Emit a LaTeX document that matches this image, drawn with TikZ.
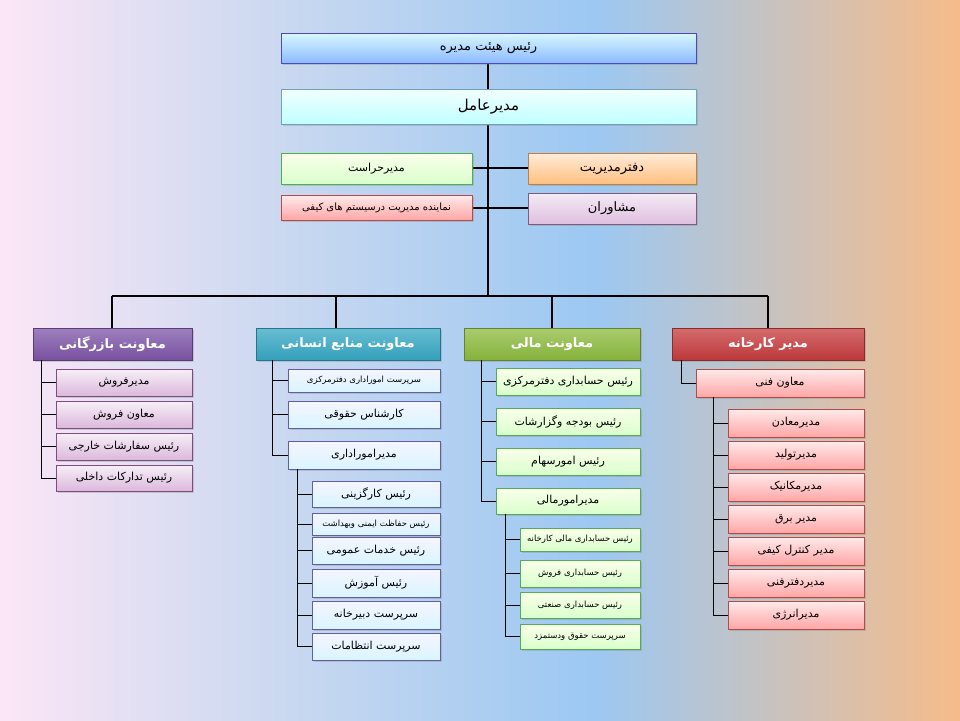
\documentclass[tikz,border=0pt]{standalone}
\usepackage{fontspec}
\newfontfamily\arabicfont[Script=Arabic]{DejaVu Sans}
\TeXXeTstate=1
\usetikzlibrary{shadows}
\newcommand\fa[1]{{\arabicfont\beginR #1\endR}}
\definecolor{bgL}{HTML}{FBE6F6}
\definecolor{bgM1}{HTML}{C9D8F0}
\definecolor{bgM}{HTML}{9CC8F2}
\definecolor{bgR}{HTML}{F6BC8A}
\pgfdeclarehorizontalshading{bgshade}{100bp}{
  color(0bp)=(bgL); color(25bp)=(bgL); color(40bp)=(bgM1); color(56bp)=(bgM); color(75bp)=(bgR); color(100bp)=(bgR)}
\tikzset{
  bxbase/.style={draw=#1, line width=0.6pt, inner sep=0pt, outer sep=0pt,
    drop shadow={shadow xshift=1.5pt, shadow yshift=-1.5pt, opacity=0.3}},
  board/.style={bxbase=blue!40!gray, top color=blue!20!cyan!15, bottom color=blue!60!cyan!45, font=\fontsize{13}{15}\selectfont},
  ceo/.style={bxbase=cyan!40!gray, top color=cyan!5, bottom color=cyan!25, font=\fontsize{15}{17}\selectfont},
  grn/.style={bxbase=green!40!gray, top color=lime!8, bottom color=lime!35!green!20, font=\fontsize{11}{13}\selectfont},
  org/.style={bxbase=orange!50!gray, top color=orange!15, bottom color=orange!50, font=\fontsize{13}{15}\selectfont},
  pnk/.style={bxbase=red!40!gray, top color=red!8, bottom color=red!35, font=\fontsize{10}{12}\selectfont},
  lav/.style={bxbase=violet!30!gray, top color=violet!8, bottom color=violet!25, font=\fontsize{13}{15}\selectfont},
  head/.style={bxbase=#1!70!black, top color=#1!75, bottom color=#1!95!black, text=white, font=\bfseries\fontsize{13}{15}\selectfont},
  cchild/.style={bxbase=violet!40!gray, top color=violet!6, bottom color=violet!28, font=\fontsize{11}{13}\selectfont},
  hchild/.style={bxbase=blue!25!gray, top color=blue!4, bottom color=blue!25!cyan!15, font=\fontsize{11}{13}\selectfont},
  fchild/.style={bxbase=green!35!gray, top color=lime!8, bottom color=lime!35!green!20, font=\fontsize{11}{13}\selectfont},
  rchild/.style={bxbase=red!40!gray, top color=red!8, bottom color=red!35, font=\fontsize{11}{13}\selectfont},
  small/.style={font=\fontsize{8.5}{10}\selectfont},
  trunk/.style={line width=2.6pt, black},
  thin/.style={line width=1pt, black}
}
\definecolor{purp}{HTML}{7E55A8}
\definecolor{teal2}{HTML}{36A8C4}
\definecolor{grn2}{HTML}{8DBB3F}
\definecolor{red2}{HTML}{C63B3D}
\newcommand\bx[7]{\node[#2, minimum width={#5-#3}, minimum height={#6-#4}] (#1) at ({(#3+#5)/2},{(#4+#6)/2}) {\fa{#7}};}
\begin{document}
\begin{tikzpicture}[x=1pt,y=-1pt]
\shade[shading=bgshade] (0,0) rectangle (960,720);
\useasboundingbox (0,0) rectangle (960,720);
% trunk and bus
\coordinate (bus) at (488,296);
\coordinate (busL) at (112,296);
\coordinate (busR) at (768,296);
\draw[trunk] (488,63) -- (bus);
\draw[trunk] (busL) -- (busR);
\foreach \x in {112,336,552,768} \draw[trunk] (\x,296) -- (\x,328);
\draw[trunk] (472,168) -- (528,168);
\draw[trunk] (472,208) -- (528,208);
% top
\bx{board}{board}{281}{33}{696}{63}{رئیس هیئت مدیره}
\bx{ceo}{ceo}{281}{89}{696}{124}{مدیرعامل}
\bx{harast}{grn}{281}{153}{472}{184}{مدیرحراست}
\bx{daftar}{org}{528}{153}{696}{184}{دفترمدیریت}
\bx{nam}{pnk}{281}{195}{472}{220}{نماینده مدیریت درسیستم های کیفی}
\bx{mosh}{lav}{528}{193}{696}{224}{مشاوران}
% heads
\bx{comm}{head=purp}{33}{328}{192}{360}{معاونت بازرگانی}
\bx{hr}{head=teal2}{256}{328}{440}{360}{معاونت منابع انسانی}
\bx{fin}{head=grn2}{464}{328}{640}{360}{معاونت مالی}
\bx{fac}{head=red2}{672}{328}{864}{360}{مدیر کارخانه}
% commerce
\bx{c1}{cchild}{56}{369}{192}{396}{مدیرفروش}
\bx{c2}{cchild}{56}{401}{192}{428}{معاون فروش}
\bx{c3}{cchild}{56}{433}{192}{460}{رئیس سفارشات خارجی}
\bx{c4}{cchild}{56}{465}{192}{491}{رئیس تدارکات داخلی}
\foreach \n in {c1,c2,c3,c4} \draw[thin] ([xshift=8pt]comm.south west) |- (\n.west);
% HR
\bx{h1}{hchild,small}{288}{369}{440}{392}{سرپرست اموراداری دفترمرکزی}
\bx{h2}{hchild}{288}{401}{440}{428}{کارشناس حقوقی}
\bx{h3}{hchild}{288}{441}{440}{469}{مدیراموراداری}
\foreach \n in {h1,h2,h3} \draw[thin] ([xshift=16pt]hr.south west) |- (\n.west);
\bx{hs1}{hchild}{312}{481}{440}{507}{رئیس کارگزینی}
\bx{hs2}{hchild,small}{312}{513}{440}{535}{رئیس حفاظت ایمنی وبهداشت}
\bx{hs3}{hchild}{312}{537}{440}{564}{رئیس خدمات عمومی}
\bx{hs4}{hchild}{312}{569}{440}{597}{رئیس آموزش}
\bx{hs5}{hchild}{312}{601}{440}{629}{سرپرست دبیرخانه}
\bx{hs6}{hchild}{312}{633}{440}{660}{سرپرست انتظامات}
\foreach \n in {hs1,hs2,hs3,hs4,hs5,hs6} \draw[thin] ([xshift=9pt]h3.south west) |- (\n.west);
% finance
\bx{f1}{fchild}{496}{368}{640}{395}{رئیس حسابداری دفترمرکزی}
\bx{f2}{fchild}{496}{408}{640}{435}{رئیس بودجه وگزارشات}
\bx{f3}{fchild}{496}{448}{640}{475}{رئیس امورسهام}
\bx{f4}{fchild}{496}{488}{640}{514}{مدیرامورمالی}
\foreach \n in {f1,f2,f3,f4} \draw[thin] ([xshift=17pt]fin.south west) |- (\n.west);
\bx{fs1}{fchild,small}{520}{528}{640}{551}{رئیس حسابداری مالی کارخانه}
\bx{fs2}{fchild,small}{520}{560}{640}{587}{رئیس حسابداری فروش}
\bx{fs3}{fchild,small}{520}{592}{640}{618}{رئیس حسابداری صنعتی}
\bx{fs4}{fchild,small}{520}{624}{640}{649}{سرپرست حقوق ودستمزد}
\foreach \n in {fs1,fs2,fs3,fs4} \draw[thin] ([xshift=9pt]f4.south west) |- (\n.west);
% factory
\bx{r0}{rchild}{696}{369}{864}{397}{معاون فنی}
\draw[thin] ([xshift=9pt]fac.south west) |- (r0.west);
\bx{r1}{rchild}{728}{409}{864}{437}{مدیرمعادن}
\bx{r2}{rchild}{728}{441}{864}{469}{مدیرتولید}
\bx{r3}{rchild}{728}{473}{864}{501}{مدیرمکانیک}
\bx{r4}{rchild}{728}{505}{864}{533}{مدیر برق}
\bx{r5}{rchild}{728}{537}{864}{565}{مدیر کنترل کیفی}
\bx{r6}{rchild}{728}{569}{864}{597}{مدیردفترفنی}
\bx{r7}{rchild}{728}{601}{864}{629}{مدیرانرژی}
\foreach \n in {r1,r2,r3,r4,r5,r6,r7} \draw[thin] ([xshift=17pt]r0.south west) |- (\n.west);
\end{tikzpicture}
\end{document}
